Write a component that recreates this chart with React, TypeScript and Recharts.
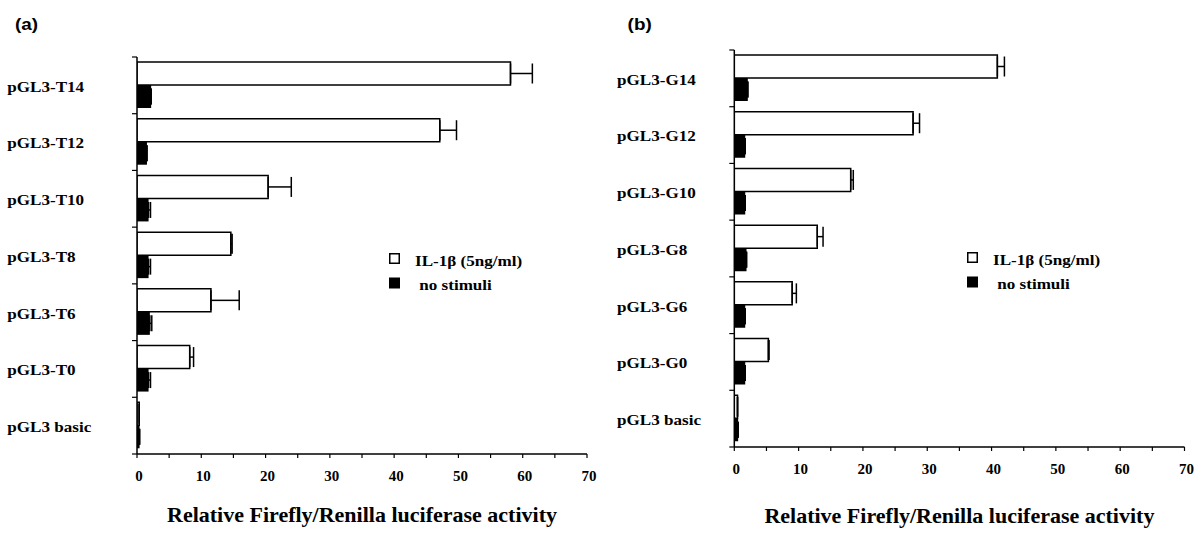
import React from 'react';
import { BarChart, Bar, XAxis, YAxis, ErrorBar, Legend, Label } from 'recharts';

// ---------- data ----------
const categoriesA = ['pGL3-T14', 'pGL3-T12', 'pGL3-T10', 'pGL3-T8', 'pGL3-T6', 'pGL3-T0', 'pGL3 basic'];
const il1bA = [58.1, 47.1, 20.4, 14.6, 11.5, 8.2, 0.35];
const il1bErrA = [3.4, 2.6, 3.6, 0.2, 4.4, 0.6, 0];
const noStimA = [2.2, 1.55, 1.8, 1.8, 2.0, 1.8, 0.4];
const noStimErrA = [0, 0, 0.3, 0.3, 0.3, 0.3, 0];

const categoriesB = ['pGL3-G14', 'pGL3-G12', 'pGL3-G10', 'pGL3-G8', 'pGL3-G6', 'pGL3-G0', 'pGL3 basic'];
const il1bB = [40.9, 27.8, 18.1, 12.9, 9.0, 5.3, 0.5];
const il1bErrB = [1.1, 1.0, 0.4, 0.9, 0.65, 0.1, 0];
const noStimB = [2.1, 1.7, 1.7, 1.9, 1.7, 1.7, 0.6];
const noStimErrB = [0, 0, 0, 0, 0, 0, 0];

const seriesNames = ['IL-1β (5ng/ml)', ' no stimuli'];
const xTicks = [0, 5, 10, 15, 20, 25, 30, 35, 40, 45, 50, 55, 60, 65, 70];
const xDomain = [0, 70];
const xAxisTitle = 'Relative Firefly/Renilla luciferase activity';
const panelLetters = ['(a)', '(b)'];

const SERIF = "'Liberation Serif', 'Times New Roman', serif";
const SANS = "'Liberation Sans', Arial, sans-serif";

type Geo = {
  top: number;
  right: number;
  xAxisHeight: number;
  yWidth: number;
  labelX: number;
  titleOffset: number;
  legendLeft: number;
  legendTop: number;
};

const geoA: Geo = { top: 57, right: 13, xAxisHeight: 80, yWidth: 137, labelX: 7.3, titleOffset: 12.5, legendLeft: 389, legendTop: 252.5 };
const geoB: Geo = { top: 50, right: 15.5, xAxisHeight: 87, yWidth: 134.3, labelX: 17, titleOffset: 11, legendLeft: 367, legendTop: 251.5 };

const XTick = (props: any) => {
  const { x, y, payload } = props;
  if (payload.value % 10 !== 0) return <g />;
  return (
    <text x={x + 2} y={y} dy="0.71em" textAnchor="middle" fontFamily={SERIF} fontWeight="bold" fontSize={15} fill="#000">
      {payload.value}
    </text>
  );
};

function Panel({ categories, il1b, il1bErr, noStim, noStimErr, g }: any) {
  const data = categories.map((name: string, i: number) => ({
    name,
    il1b: il1b[i],
    il1bErr: [0, il1bErr[i]],
    noStim: noStim[i],
    noStimErr: [0, noStimErr[i]],
  }));
  const n = categories.length;

  const YTick = (props: any) => {
    const { x, y, payload, index } = props;
    const idx = typeof index === 'number' ? index : categories.indexOf(payload.value);
    // half of the band, derived from where the axis placed this tick
    const half = (y - g.top) / (2 * idx + 1);
    return (
      <g>
        <line x1={x} x2={x + 5} y1={y - half} y2={y - half} stroke="#000" strokeWidth={1.2} />
        {idx === n - 1 && <line x1={x} x2={x + 5} y1={y + half} y2={y + half} stroke="#000" strokeWidth={1.2} />}
        <text
          transform={`translate(${g.labelX},${y}) scale(1.22,1)`}
          dy="0.45em"
          fontFamily={SERIF}
          fontWeight="bold"
          fontSize={14}
          fill="#000"
        >
          {payload.value}
        </text>
      </g>
    );
  };

  const renderLegend = (props: any) => {
    const payload = [...(props.payload || [])].sort(
      (a: any, b: any) => seriesNames.indexOf(a.value) - seriesNames.indexOf(b.value)
    );
    return (
      <svg width={200} height={42} style={{ overflow: 'visible' }}>
        {payload.map((entry: any, i: number) => {
          const fill = entry.payload?.fill ?? entry.color;
          const rowY = i * 24.5;
          return (
            <g key={i}>
              <rect x={0.75} y={rowY + 0.75} width={9.5} height={9.5} fill={fill} stroke="#000" strokeWidth={1.5} />
              <text
                transform={`translate(26,${rowY + 12.5}) scale(1.22,1)`}
                fontFamily={SERIF}
                fontWeight="bold"
                fontSize={14}
                fill="#000"
                style={{ whiteSpace: 'pre' }}
              >
                {entry.value}
              </text>
            </g>
          );
        })}
      </svg>
    );
  };

  return (
    <BarChart
      width={600}
      height={534}
      data={data}
      layout="vertical"
      margin={{ top: g.top, right: g.right, bottom: 0, left: 0 }}
      barGap={0}
      barSize={23}
    >
      <XAxis
        type="number"
        domain={xDomain}
        ticks={xTicks}
        interval={0}
        height={g.xAxisHeight}
        tickSize={4}
        tickMargin={12}
        axisLine={{ stroke: '#000', strokeWidth: 1.5 }}
        tickLine={{ stroke: '#000', strokeWidth: 1.2 }}
        tick={XTick}
        allowDataOverflow
      >
        <Label
          value={xAxisTitle}
          position="insideBottom"
          offset={g.titleOffset}
          style={{ fontFamily: SERIF, fontWeight: 'bold', fontSize: 22, fill: '#000' }}
        />
      </XAxis>
      <YAxis
        type="category"
        dataKey="name"
        width={g.yWidth}
        interval={0}
        tickSize={5}
        tickMargin={0}
        axisLine={{ stroke: '#000', strokeWidth: 1.5 }}
        tickLine={{ stroke: 'none' }}
        tick={YTick}
      />
      <Bar dataKey="il1b" name={seriesNames[0]} fill="#ffffff" stroke="#000" strokeWidth={1.5} isAnimationActive={false}>
        <ErrorBar dataKey="il1bErr" direction="x" width={10} stroke="#000" strokeWidth={1.5} />
      </Bar>
      <Bar dataKey="noStim" name={seriesNames[1]} fill="#000000" isAnimationActive={false}>
        <ErrorBar dataKey="noStimErr" direction="x" width={8} stroke="#000" strokeWidth={1.5} />
      </Bar>
      <Legend
        layout="horizontal"
        verticalAlign="middle"
        align="center"
        content={renderLegend}
        wrapperStyle={{ left: g.legendLeft, top: g.legendTop, width: 200, height: 42 }}
      />
    </BarChart>
  );
}

export default function App() {
  return (
    <div style={{ position: 'absolute', left: 0, top: 0, width: 1200, height: 534, background: '#fff', overflow: 'hidden' }}>
      <div style={{ position: 'absolute', left: 0, top: 0 }}>
        <Panel categories={categoriesA} il1b={il1bA} il1bErr={il1bErrA} noStim={noStimA} noStimErr={noStimErrA} g={geoA} />
      </div>
      <div style={{ position: 'absolute', left: 600, top: 0 }}>
        <Panel categories={categoriesB} il1b={il1bB} il1bErr={il1bErrB} noStim={noStimB} noStimErr={noStimErrB} g={geoB} />
      </div>
      <svg width={1200} height={534} style={{ position: 'absolute', left: 0, top: 0, pointerEvents: 'none' }}>
        <text transform="translate(15,29.7) scale(1.18,1)" fontFamily={SANS} fontWeight="bold" fontSize={16} fill="#000">
          {panelLetters[0]}
        </text>
        <text transform="translate(627.6,29.7) scale(1.18,1)" fontFamily={SANS} fontWeight="bold" fontSize={16} fill="#000">
          {panelLetters[1]}
        </text>
      </svg>
    </div>
  );
}
